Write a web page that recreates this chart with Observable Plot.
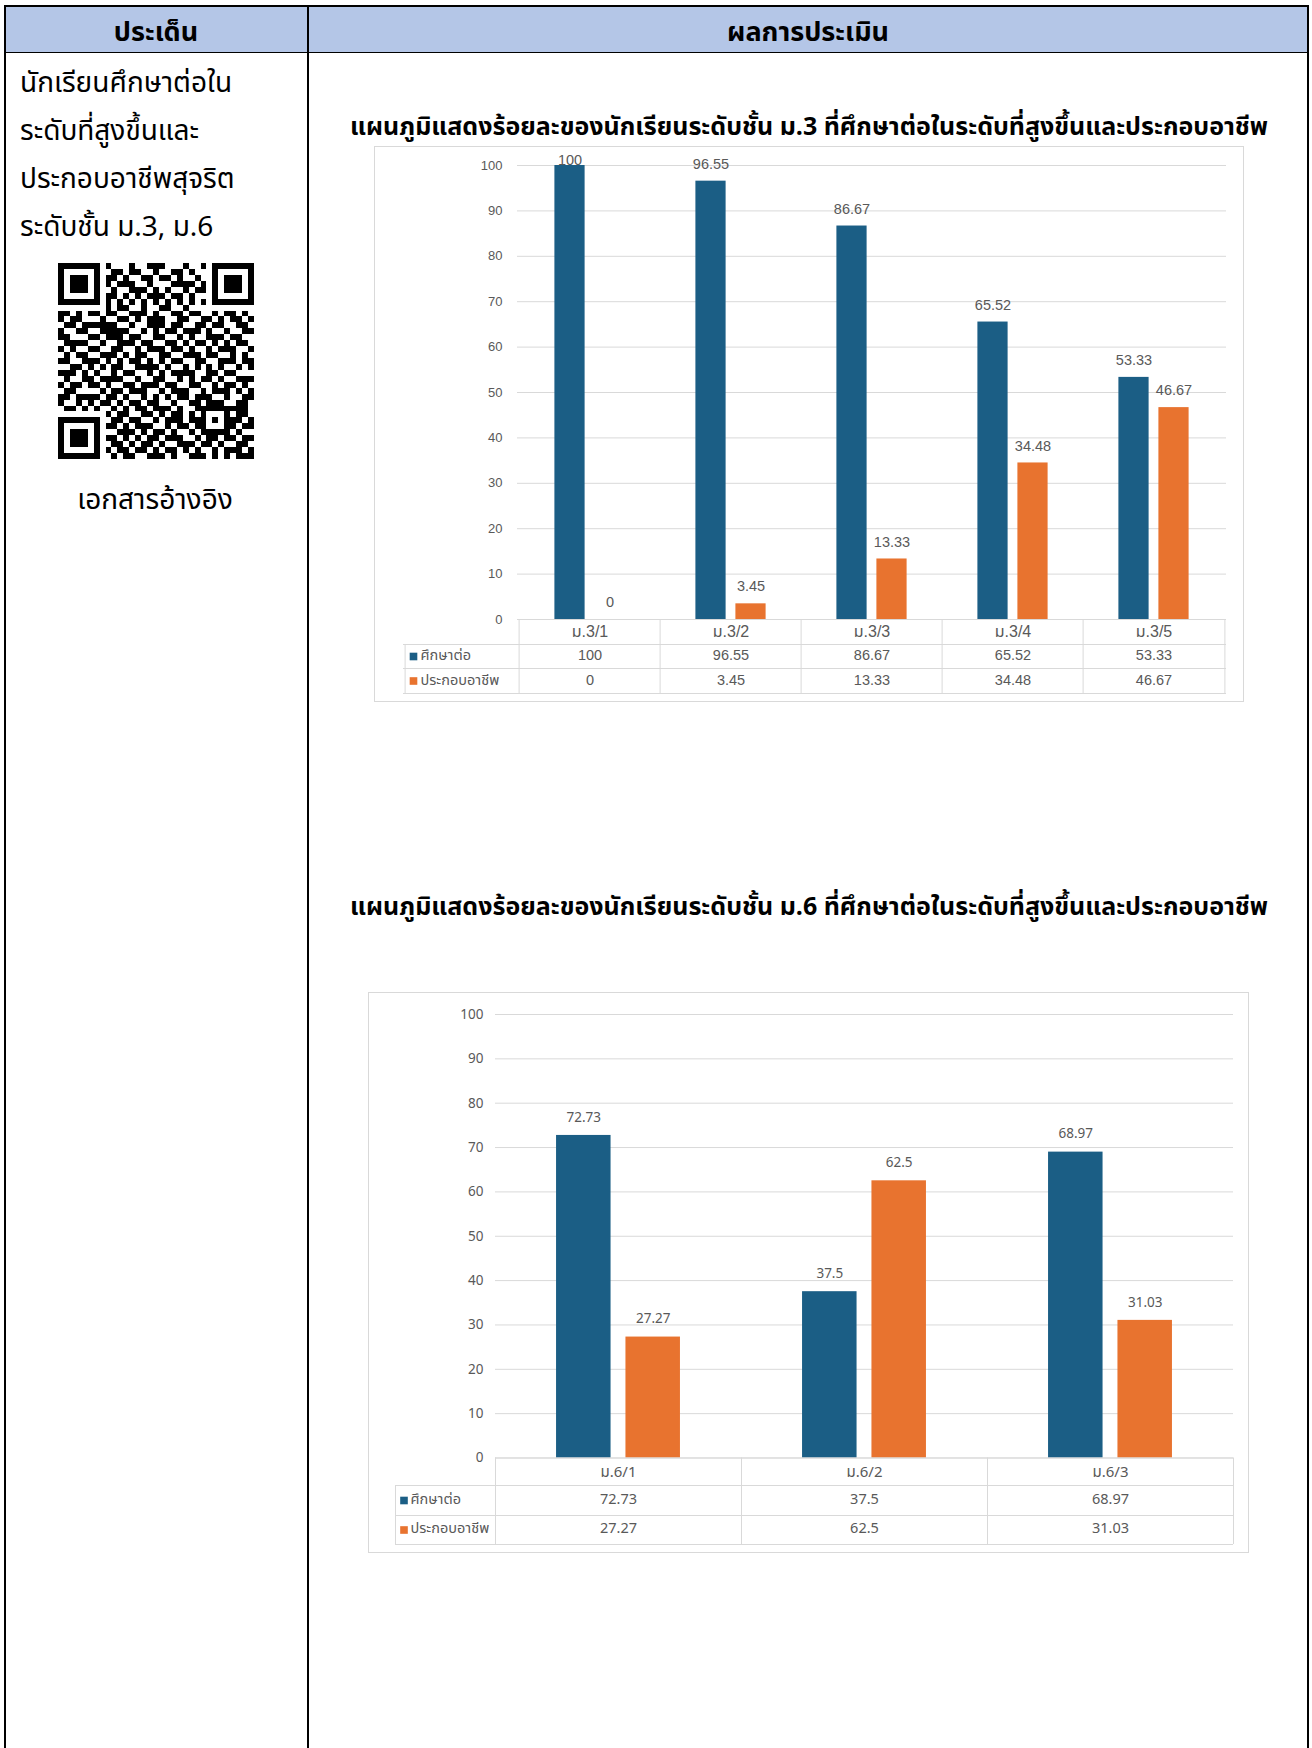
<!DOCTYPE html>
<html><head><meta charset="utf-8">
<script src="https://cdn.jsdelivr.net/npm/d3@7"></script>
<script src="https://cdn.jsdelivr.net/npm/@observablehq/plot@0.6"></script>
<style>
html,body{margin:0;padding:0;background:#fff;}
body{width:1312px;height:1748px;position:relative;overflow:hidden;font-family:"Noto Sans Thai","Noto Sans Thai UI","Noto Looped Thai","Loma","Garuda","Noto Sans",sans-serif;color:#000;}
.abs{position:absolute;}
.c{transform:translate(-50%,-50%);white-space:nowrap;}
.line{position:absolute;background:#000;}
.hdr{font-weight:bold;font-size:27px;}
.left{position:absolute;left:20px;top:60px;font-size:28px;line-height:48px;white-space:nowrap;}
.title{font-weight:bold;font-size:25px;}
.chart svg{border:1px solid #d9d9d9;display:block;}
</style></head><body>
<div class="line" style="left:6px;top:7px;width:1301px;height:45px;background:#b4c6e7"></div>
<div class="line" style="left:4px;top:5px;width:1305px;height:2px"></div>
<div class="line" style="left:4px;top:52px;width:1305px;height:1px"></div>
<div class="line" style="left:4px;top:5px;width:2px;height:1743px"></div>
<div class="line" style="left:307px;top:5px;width:1.5px;height:1743px"></div>
<div class="line" style="left:1307px;top:5px;width:2px;height:1743px"></div>
<div class="abs c hdr" style="left:156px;top:32px">ประเด็น</div>
<div class="abs c hdr" style="left:808px;top:32px">ผลการประเมิน</div>
<div class="left">นักเรียนศึกษาต่อใน<br>ระดับที่สูงขึ้นและ<br>ประกอบอาชีพสุจริต<br>ระดับชั้น ม.3, ม.6</div>
<div id="qr" class="abs" style="left:58px;top:263px"></div>
<div class="abs c" style="left:155px;top:500px;font-size:28px">เอกสารอ้างอิง</div>
<div class="abs c title" style="left:809px;top:127px">แผนภูมิแสดงร้อยละของนักเรียนระดับชั้น ม.3 ที่ศึกษาต่อในระดับที่สูงขึ้นและประกอบอาชีพ</div>
<div class="abs c title" style="left:809px;top:907px">แผนภูมิแสดงร้อยละของนักเรียนระดับชั้น ม.6 ที่ศึกษาต่อในระดับที่สูงขึ้นและประกอบอาชีพ</div>
<div id="chart1" class="abs chart" style="left:374px;top:146px"></div>
<div id="chart2" class="abs chart" style="left:368px;top:992px"></div>
<script>
// ---- data ----
const seriesNames = ["ศึกษาต่อ", "ประกอบอาชีพ"];
const seriesColors = ["#1b5e85", "#e8732f"];
const cats3 = ["ม.3/1", "ม.3/2", "ม.3/3", "ม.3/4", "ม.3/5"];
const study3 = [100, 96.55, 86.67, 65.52, 53.33];
const work3 = [0, 3.45, 13.33, 34.48, 46.67];
const cats6 = ["ม.6/1", "ม.6/2", "ม.6/3"];
const study6 = [72.73, 37.5, 68.97];
const work6 = [27.27, 62.5, 31.03];
const yTicks = [0, 10, 20, 30, 40, 50, 60, 70, 80, 90, 100];

// QR module rows (33 x 33)
const qrRows = [
  "1111111 0 10001001110001001 0 1111111",
  "1000001 0 01101100100110100 0 1000001",
  "1011101 0 11010011011010010 0 1011101",
  "1011101 0 10111001000111101 0 1011101",
  "1011101 0 01001110101001011 0 1011101",
  "1000001 0 11010101110110100 0 1000001",
  "1111111 0 10101010101010101 0 1111111",
  "0000000 0 10110010011001000 0 0000000",
  "110101 1 01100111010011011001011010",
  "101100 0 10011010111001100110101101",
  "011011 1 11100100111011001101100110",
  "100110 0 11111001010110111010010011",
  "110001 1 01110110011001010011101100",
  "011110 0 10011101100110101101010110",
  "101001 1 00110010111011010010111001",
  "010110 0 11101011001100111011001010",
  "110011 1 01010110101011001100111011",
  "001101 0 10110011110100101010100101",
  "111010 1 00101100101011110011011000",
  "010011 0 11110010011001010110100111",
  "101101 1 01001101110110011001011010",
  "011000 0 10110111001011100101110101",
  "110111 1 01101001010101101110010011",
  "100101 0 11010110110010011011100110",
  "011010 1 00101011011101001010111110",
  "00000000 1011001101011010011010110",
  "00000000 0110110010111011001011101",
  "00000000 1101011100101101101101011",
  "00000000 0011101011010010110110100",
  "00000000 1101010110111001011011011",
  "00000000 0110101101001110110100110",
  "00000000 1011011010110101001011101",
  "00000000 0101100111010011101010111"
];

// ---- QR ----
(function(){
  const N = 33;
  const grid = qrRows.map(r => { let s = r.replace(/\s/g, ""); s = (s + "0".repeat(N)).slice(0, N); return s.split("").map(Number); });
  const finder = (r0, c0) => { for (let r = -1; r <= 7; r++) for (let c = -1; c <= 7; c++) { const rr = r0 + r, cc = c0 + c; if (rr < 0 || cc < 0 || rr >= N || cc >= N) continue; const on = r >= 0 && r <= 6 && c >= 0 && c <= 6 && (r === 0 || r === 6 || c === 0 || c === 6 || (r >= 2 && r <= 4 && c >= 2 && c <= 4)); grid[rr][cc] = on ? 1 : 0; } };
  finder(0, 0); finder(0, N - 7); finder(N - 7, 0);
  for (let i = 8; i < N - 8; i++) { grid[6][i] = i % 2 === 0 ? 1 : 0; grid[i][6] = i % 2 === 0 ? 1 : 0; }
  for (let r = -2; r <= 2; r++) for (let c = -2; c <= 2; c++) grid[26 + r][26 + c] = (Math.max(Math.abs(r), Math.abs(c)) !== 1) ? 1 : 0;
  grid[N - 8][8] = 1;
  const cells = [];
  grid.forEach((row, r) => row.forEach((v, c) => { if (v) cells.push({r, c}); }));
  const idx = d3.range(N);
  const p = Plot.plot({
    width: 196, height: 196, margin: 0,
    x: {type: "band", domain: idx, padding: 0, axis: null},
    y: {type: "band", domain: idx, padding: 0, axis: null},
    marks: [Plot.cell(cells, {x: "c", y: "r", fill: "#000", shapeRendering: "crispEdges"})]
  });
  document.getElementById("qr").appendChild(p);
})();

// ---- charts ----
function makeChart(cfg) {
  const {cats, study, work, W, H, mL, mR, mT, mB, barW, off, rowDy, legendW, font, fs, lfs, tfs, catFs, labelDy, tickPad, sqDx, txtDx, tShift, cShift} = cfg;
  const bw = (W - mL - mR) / cats.length;
  const inset = (bw - barW) / 2;
  const tableH = rowDy[2];
  const rowsS = cats.map((c, i) => ({cat: c, value: study[i]}));
  const rowsW = cats.map((c, i) => ({cat: c, value: work[i]}));
  const fmt = v => String(v);
  const grey = "#595959";
  const lineC = "#d9d9d9";
  const marks = [
    Plot.ruleY(yTicks, {stroke: lineC, strokeWidth: 1}),
    Plot.barY(rowsS, {x: "cat", y: "value", fill: seriesColors[0], insetLeft: inset, insetRight: inset, dx: -off}),
    Plot.barY(rowsW, {x: "cat", y: "value", fill: seriesColors[1], insetLeft: inset, insetRight: inset, dx: off}),
    Plot.text(rowsS.filter(d => d.value < 97), {x: "cat", y: "value", text: d => fmt(d.value), dx: -off, dy: labelDy, fill: grey, fontSize: lfs}),
    Plot.text(rowsS.filter(d => d.value >= 97), {x: "cat", y: "value", text: d => fmt(d.value), dx: -off, dy: -5, fill: grey, fontSize: lfs}),
    Plot.text(rowsW, {x: "cat", y: "value", text: d => fmt(d.value), dx: off, dy: labelDy, fill: grey, fontSize: lfs}),
    // data table under the axis
    Plot.text(cats, {x: d => d, frameAnchor: "bottom", dy: rowDy[0] / 2 + cShift, fill: grey, fontSize: catFs}),
    Plot.text(rowsS, {x: "cat", frameAnchor: "bottom", text: d => fmt(d.value), dy: (rowDy[0] + rowDy[1]) / 2 + tShift, fill: grey, fontSize: tfs}),
    Plot.text(rowsW, {x: "cat", frameAnchor: "bottom", text: d => fmt(d.value), dy: (rowDy[1] + rowDy[2]) / 2 + tShift, fill: grey, fontSize: tfs}),
    Plot.ruleY([0], {stroke: lineC}),
    ...rowDy.map(dy => Plot.ruleY([0], {dy, insetLeft: -legendW, stroke: lineC})),
    Plot.ruleX(cats, {x: d => d, dx: -bw / 2, insetTop: H - mT - mB, insetBottom: -tableH, stroke: lineC}),
    Plot.ruleX([cats[cats.length - 1]], {x: d => d, dx: bw / 2, insetTop: H - mT - mB, insetBottom: -tableH, stroke: lineC}),
    Plot.ruleX([cats[0]], {x: d => d, dx: -bw / 2 - legendW, insetTop: H - mT - mB + rowDy[0], insetBottom: -tableH, stroke: lineC}),
    // legend keys inside the table
    ...seriesNames.map((name, i) => Plot.dot([name], {frameAnchor: "bottom-left", dx: sqDx, dy: (rowDy[i] + rowDy[i + 1]) / 2, symbol: "square", r: 4.3, fill: seriesColors[i], stroke: null})),
    ...seriesNames.map((name, i) => Plot.text([name], {frameAnchor: "bottom-left", text: d => d, dx: txtDx, dy: (rowDy[i] + rowDy[i + 1]) / 2 + tShift, textAnchor: "start", fill: grey, fontSize: tfs}))
  ];
  return Plot.plot({
    width: W, height: H, marginLeft: mL, marginRight: mR, marginTop: mT, marginBottom: mB,
    style: {fontFamily: font, fontSize: fs + "px", color: grey, background: "#fff", overflow: "visible"},
    x: {type: "band", domain: cats, padding: 0, axis: null},
    y: {domain: [0, 100], ticks: yTicks, tickSize: 0, tickPadding: tickPad, label: null, tickFormat: d => String(d)},
    marks
  });
}

const thaiFonts = '"Noto Sans Thai","Noto Sans Thai UI","Loma","Garuda","Noto Sans",sans-serif';
document.getElementById("chart1").appendChild(makeChart({
  cats: cats3, study: study3, work: work3,
  W: 868, H: 554, mL: 142, mR: 17, mT: 18, mB: 82,
  barW: 31, off: 20, rowDy: [25, 49, 74], legendW: 114,
  font: '"Liberation Sans",' + thaiFonts, fs: 13, lfs: 14.5, tfs: 14.5, catFs: 16, labelDy: -17, tickPad: 15, sqDx: -104, txtDx: -97, tShift: 3.5, cShift: 4.5
}));
document.getElementById("chart2").appendChild(makeChart({
  cats: cats6, study: study6, work: work6,
  W: 879, H: 559, mL: 126, mR: 15, mT: 21, mB: 94.5,
  barW: 54.5, off: 34.7, rowDy: [27.5, 57.5, 86.5], legendW: 100,
  font: '"Liberation Sans Narrow","Arial Narrow",' + thaiFonts, fs: 13.5, lfs: 13.5, tfs: 14.5, catFs: 15, labelDy: -18, tickPad: 12, sqDx: -91.5, txtDx: -85, tShift: 3, cShift: 5
}));
</script>
</body></html>
